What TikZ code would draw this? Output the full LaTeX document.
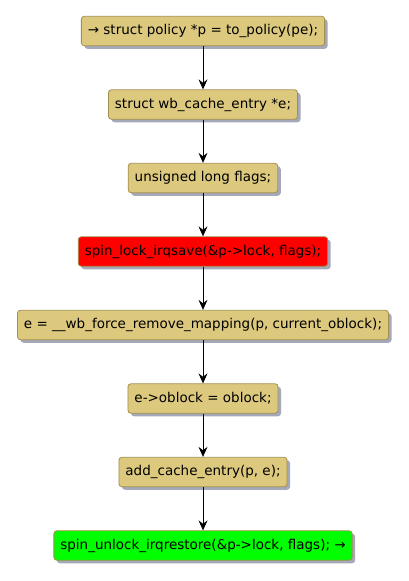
\documentclass[tikz,border=0pt]{standalone}
\usepackage{fontspec}
\setmainfont{DejaVu Sans}
\usetikzlibrary{positioning,shadows,arrows.meta}

\definecolor{stepfill}{HTML}{DDC97E}
\definecolor{stepline}{HTML}{A38F4E}
\definecolor{shadowgrey}{HTML}{A3A9B8}

\tikzset{
  stmt/.style={draw=stepline, fill=stepfill, rounded corners=3pt, line width=0.8pt,
    minimum height=29.5pt, inner xsep=6.5pt, inner ysep=0pt,
    font=\fontsize{13.5}{15}\selectfont,
    drop shadow={shadow xshift=3pt, shadow yshift=-3pt, fill=shadowgrey, opacity=1}},
  flow/.style={-{Stealth[length=10pt,width=9pt,inset=3.5pt]}, line width=0.8pt}
}

\begin{document}
\begin{tikzpicture}[x=1pt, y=1pt, node distance=43.2pt]
    \useasboundingbox (0,0) rectangle (408,-581);

    % the statements, top to bottom
    \node[stmt] (policy) at (203,-31) {→ struct policy *p = to\_policy(pe);};
    \node[stmt, below=of policy] (entry) {struct wb\_cache\_entry *e;};
    \node[stmt, below=of entry] (flags) {unsigned long flags;};
    \node[stmt, fill=red, below=of flags] (lock) {spin\_lock\_irqsave(\&p->lock, flags);};
    \node[stmt, below=of lock] (remove) {e = \_\_wb\_force\_remove\_mapping(p, current\_oblock);};
    \node[stmt, below=of remove] (oblock) {e->oblock = oblock;};
    \node[stmt, below=of oblock] (add) {add\_cache\_entry(p, e);};
    \node[stmt, fill=green, below=of add] (unlock) {spin\_unlock\_irqrestore(\&p->lock, flags); →};

    % the arrows
    \draw[flow] (policy) -- (entry);
    \draw[flow] (entry) -- (flags);
    \draw[flow] (flags) -- (lock);
    \draw[flow] (lock) -- (remove);
    \draw[flow] (remove) -- (oblock);
    \draw[flow] (oblock) -- (add);
    \draw[flow] (add) -- (unlock);

\end{tikzpicture}
\end{document}
